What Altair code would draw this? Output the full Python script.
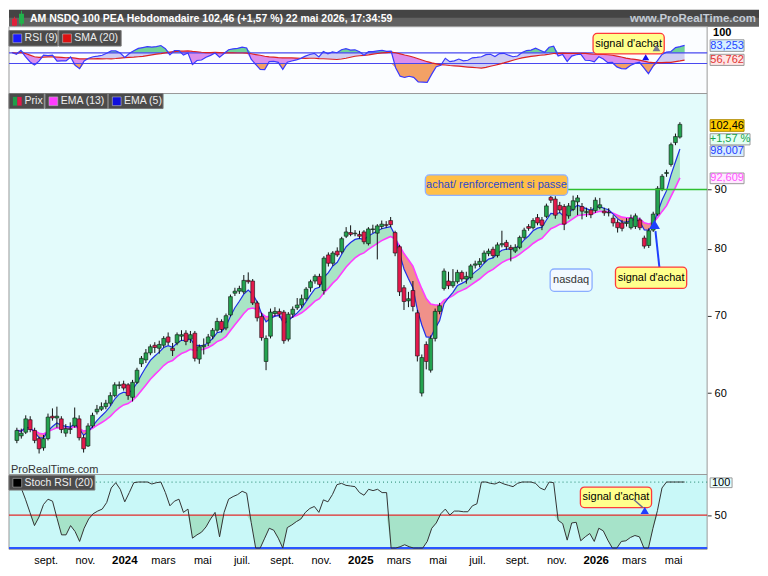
import altair as alt
import numpy as np
import pandas as pd

# ---------------- data ----------------
FIRST_WEEK = "2023-07-10"   # weekly candles, one per week

OPEN = [54.6, 55.1, 55.5, 56.9, 55.7, 54.8, 53.8, 54.8, 57.3, 57.1,
        57.0, 55.4, 55.8, 56.2, 57.0, 54.9, 54.0, 56.2, 57.8, 58.1,
        58.4, 58.8, 59.7, 60.9, 61.1, 61.0, 59.5, 61.3, 63.6, 64.1,
        65.0, 66.0, 65.6, 66.0, 67.1, 65.6, 66.3, 67.2, 67.6, 66.8,
        67.6, 64.2, 65.8, 66.3, 67.2, 68.0, 69.2, 68.3, 70.1, 73.2,
        73.5, 73.4, 75.1, 75.0, 71.8, 69.9, 63.9, 67.2, 70.3, 70.6,
        70.5, 66.8, 70.2, 71.1, 71.5, 72.4, 74.0, 75.0, 75.7, 73.6,
        79.0, 77.7, 79.6, 79.5, 82.0, 82.6, 82.4, 82.3, 82.7, 80.8,
        83.1, 82.5, 83.6, 83.9, 84.6, 82.6, 80.3, 74.0, 72.1, 73.6,
        70.4, 60.0, 66.1, 62.8, 66.9, 70.6, 73.9, 75.0, 74.3, 74.9,
        76.3, 75.3, 75.5, 77.4, 77.5, 78.0, 79.2, 79.9, 78.9, 80.6,
        81.0, 80.2, 79.6, 80.2, 81.8, 83.6, 83.4, 85.1, 84.7, 85.3,
        88.6, 88.3, 87.2, 87.0, 85.4, 86.5, 87.8, 87.0, 86.0, 86.4,
        86.3, 86.8, 86.2, 85.9, 85.0, 84.3, 84.2, 84.1, 83.4, 83.6,
        84.7, 81.7, 80.5, 83.0, 85.7, 90.1, 92.9, 94.6, 98.8, 99.9]

CLOSE = [55.7, 55.4, 57.0, 55.8, 54.6, 53.7, 54.8, 57.2, 57.1, 57.3,
         55.8, 55.9, 55.9, 57.1, 54.9, 53.7, 56.2, 57.4, 58.1, 58.4,
         58.8, 59.7, 61.0, 61.0, 60.6, 59.7, 61.3, 62.8, 64.3, 65.0,
         65.8, 65.7, 66.1, 66.9, 66.4, 65.3, 67.4, 67.4, 66.5, 67.4,
         64.3, 65.8, 66.0, 67.1, 68.0, 69.2, 68.1, 70.0, 72.7, 73.5,
         73.9, 75.1, 74.9, 71.8, 69.7, 67.0, 66.9, 70.5, 70.6, 70.2,
         66.6, 70.2, 70.9, 71.5, 72.4, 73.8, 74.9, 75.7, 74.5, 78.5,
         77.7, 79.3, 79.0, 81.6, 82.7, 82.3, 82.5, 82.0, 81.1, 83.2,
         83.2, 83.7, 84.0, 83.8, 83.9, 79.3, 73.4, 72.0, 72.4, 71.3,
         64.6, 64.4, 63.9, 66.9, 70.6, 71.4, 76.5, 74.3, 74.9, 76.3,
         75.3, 75.7, 77.3, 77.6, 78.0, 79.3, 79.6, 78.9, 80.6, 80.8,
         80.3, 79.9, 80.2, 81.8, 83.0, 83.3, 84.6, 84.2, 83.8, 87.1,
         88.1, 85.5, 86.4, 84.0, 87.1, 88.0, 88.5, 86.2, 86.1, 85.6,
         88.1, 87.3, 85.9, 86.0, 84.2, 83.4, 83.3, 84.3, 85.0, 85.4,
         83.4, 80.4, 82.9, 85.7, 90.2, 92.4, 93.1, 98.4, 100.0, 102.46]

HIGH = [56.0, 55.9, 57.4, 57.3, 56.0, 55.0, 55.2, 57.6, 58.2, 58.4,
        57.3, 56.4, 56.6, 58.3, 57.4, 55.2, 56.5, 57.7, 58.6, 58.9,
        59.2, 60.1, 61.3, 61.4, 61.5, 61.2, 61.6, 63.1, 64.6, 65.5,
        66.1, 66.4, 66.6, 67.2, 67.7, 66.3, 67.7, 68.0, 68.0, 67.9,
        67.9, 66.1, 66.9, 67.5, 68.3, 69.7, 69.5, 70.3, 73.0, 74.0,
        74.3, 75.9, 76.3, 75.3, 72.1, 70.4, 67.3, 71.0, 71.2, 71.0,
        70.8, 70.5, 71.3, 72.5, 73.0, 74.1, 75.2, 76.0, 76.1, 78.8,
        79.4, 79.6, 80.2, 81.9, 83.5, 83.8, 83.0, 82.9, 83.0, 83.5,
        83.9, 84.0, 84.6, 84.5, 85.2, 82.9, 80.6, 74.4, 73.4, 75.0,
        70.8, 64.8, 66.5, 67.3, 71.0, 71.8, 76.9, 76.4, 76.8, 76.7,
        76.6, 76.4, 77.6, 78.1, 78.5, 79.7, 80.0, 80.3, 81.0, 82.9,
        81.4, 80.6, 80.7, 82.1, 83.4, 84.0, 85.0, 85.7, 85.2, 87.5,
        89.8, 88.8, 87.8, 87.4, 87.6, 88.9, 89.0, 87.6, 86.8, 86.9,
        88.6, 88.5, 86.8, 86.7, 85.5, 84.8, 84.7, 85.0, 85.6, 85.8,
        85.1, 82.1, 83.3, 86.1, 90.6, 92.8, 93.6, 98.8, 100.6, 102.9]

LOW = [54.3, 54.8, 55.3, 55.5, 54.3, 53.2, 53.5, 54.6, 56.8, 56.0,
       55.4, 55.0, 55.3, 56.0, 54.6, 53.3, 53.9, 56.0, 57.5, 57.9,
       58.1, 58.5, 59.5, 60.5, 60.3, 59.2, 59.0, 61.1, 63.2, 63.7,
       64.7, 65.0, 64.9, 65.7, 66.0, 64.6, 66.0, 66.6, 66.0, 66.3,
       63.9, 63.6, 64.8, 65.9, 66.8, 67.7, 67.7, 68.0, 69.9, 72.8,
       73.1, 73.1, 74.6, 71.5, 69.2, 66.6, 62.8, 66.9, 69.9, 69.7,
       66.2, 66.5, 69.7, 70.8, 71.1, 72.1, 73.4, 74.6, 74.1, 73.0,
       77.2, 77.3, 78.7, 79.2, 81.7, 82.0, 82.0, 81.6, 80.7, 80.5,
       82.5, 78.3, 83.2, 83.4, 83.5, 78.8, 72.8, 70.8, 71.2, 70.6,
       63.9, 59.6, 62.9, 62.5, 66.5, 70.2, 73.6, 73.8, 74.0, 74.6,
       74.9, 74.6, 75.2, 76.9, 77.1, 77.7, 78.8, 78.5, 78.6, 80.2,
       79.8, 78.0, 79.3, 79.9, 81.5, 82.9, 83.1, 83.8, 83.0, 85.0,
       87.6, 84.9, 85.9, 83.0, 84.9, 86.2, 85.5, 84.8, 85.2, 85.0,
       85.9, 86.5, 85.4, 85.3, 83.6, 82.6, 82.8, 83.6, 83.1, 83.2,
       83.0, 80.0, 80.1, 82.7, 85.4, 89.7, 92.3, 94.2, 98.3, 99.6]

STOCH_RSI = [95, 95, 92, 74, 54, 34, 47, 66, 74, 71,
             45, 20, 20, 34, 25, 10, 30, 44, 52, 56,
             59, 69, 91, 99, 89, 70, 84, 99, 100, 100,
             100, 97, 99, 100, 84, 64, 71, 74, 54, 59,
             15, 20, 24, 32, 44, 54, 17, 54, 74, 78,
             81, 86, 83, 39, 0, 0, 15, 30, 27, 15,
             0, 31, 35, 40, 44, 54, 60, 63, 54, 73,
             70, 81, 96, 98, 95, 94, 93, 84, 80, 89,
             87, 89, 84, 84, 0, 0, 2, 5, 2, 0,
             0, 0, 10, 30, 38, 52, 59, 50, 56, 56,
             55, 55, 64, 67, 100, 100, 98, 97, 100, 97,
             95, 93, 98, 100, 100, 100, 98, 91, 88, 100,
             99, 42, 37, 12, 38, 39, 11, 17, 22, 10,
             30, 26, 12, 0, 0, 10, 11, 16, 19, 17,
             0, 0, 30, 57, 91, 100, 100, 100, 100, 100]

TICK_DATES = ["2023-09-01", "2023-11-01", "2024-01-01", "2024-03-01", "2024-05-01",
              "2024-07-01", "2024-09-01", "2024-11-01", "2025-01-01", "2025-03-01",
              "2025-05-01", "2025-07-01", "2025-09-01", "2025-11-01", "2026-01-01",
              "2026-03-01", "2026-05-01"]
TICK_LABELS = ["sept.", "nov.", "2024", "mars", "mai", "juil.", "sept.", "nov.", "2025",
               "mars", "mai", "juil.", "sept.", "nov.", "2026", "mars", "mai"]
PRICE_TICKS = [60, 70, 80, 90]
RSI_LEVELS = [70, 50]
BUY_LEVEL = 90
HEADER = "AM NSDQ 100 PEA Hebdomadaire 102,46 (+1,57 %) 22 mai 2026, 17:34:59"

# ---------------- layout ----------------
FONT = "Liberation Sans"
W = 700
TOTAL_W = 752
H_HEAD, H_RSI, H_PRICE, H_STOCH = 17, 67, 382, 75
SX = W / 716.0


def fx(rx):
    return rx * SX


def fr(ry):
    return (ry - 17) * H_RSI / 69.0


def fp(ry):
    return (ry - 87) * H_PRICE / 393.0


def fs(ry):
    return (ry - 481) * H_STOCH / 77.0


# ---------------- derived table ----------------
n = len(CLOSE)
df = pd.DataFrame({
    "date": pd.date_range(FIRST_WEEK, periods=n, freq="7D"),
    "open": OPEN, "close": CLOSE, "high": HIGH, "low": LOW, "stoch": STOCH_RSI,
})
df["dir"] = np.where(df["close"] >= df["open"], "up", "down")
cs = df["close"].astype(float)
df["ema13"] = cs.ewm(span=13, adjust=False).mean()
df["ema5"] = cs.ewm(span=5, adjust=False).mean()
df["ema_hi"] = np.maximum(df["ema5"], df["ema13"])
df["ema_lo"] = np.minimum(df["ema5"], df["ema13"])

# RSI(9), Wilder smoothing (state before the first week assumed in an up-trend)
c = cs.values
d = np.diff(c, prepend=c[0])
g = np.clip(d, 0, None)
l = np.clip(-d, 0, None)
ag, al = 0.6, 0.25
rsi = np.zeros(n)
for i in range(n):
    ag = (ag * 8 + g[i]) / 9.0
    al = (al * 8 + l[i]) / 9.0
    rsi[i] = 100.0 if al == 0 else 100 - 100 / (1 + ag / al)
df["rsi"] = rsi
df["sma"] = pd.Series(rsi).rolling(20, min_periods=1).mean()
df["rs_hi"] = np.maximum(df["rsi"], df["sma"])
df["rs_lo"] = np.minimum(df["rsi"], df["sma"])
df["c70"] = 70.0
df["c50"] = 50.0
df["rsi70"] = np.maximum(df["rsi"], 70)
df["rsi50"] = np.minimum(df["rsi"], 50)
df["s50"] = np.minimum(df["stoch"], 50)

ticks_df = pd.DataFrame({"date": pd.to_datetime(TICK_DATES), "label": TICK_LABELS})
ticks_df["year"] = ticks_df["label"].str.isdigit()

ONE = pd.DataFrame({"k": [0]})

# ---------------- helpers for furniture ----------------


def rect(x1, x2, y1, y2, fill, stroke="transparent", sw=1.0, r=0):
    return alt.Chart(ONE).mark_rect(fill=fill, stroke=stroke, strokeWidth=sw,
                                    cornerRadius=r, opacity=1).encode(
        x=alt.value(x1), x2=alt.value(x2), y=alt.value(y1), y2=alt.value(y2))


def text(x, y, s, color="black", size=11, weight="normal", align="left"):
    return alt.Chart(ONE).mark_text(text=s, font=FONT, fontSize=size, fontWeight=weight,
                                    color=color, align=align, baseline="middle").encode(
        x=alt.value(x), y=alt.value(y))


def seg(x1, y1, x2, y2, color, sw=1.0):
    return alt.Chart(ONE).mark_rule(color=color, strokeWidth=sw).encode(
        x=alt.value(x1), x2=alt.value(x2), y=alt.value(y1), y2=alt.value(y2))


def tri(x, y, size, color):
    return alt.Chart(ONE).mark_point(shape="triangle-up", filled=True, size=size,
                                     color=color, opacity=1).encode(
        x=alt.value(x), y=alt.value(y))


def value_box(y1, y2, s, fill, tcolor, width=34, stroke="#9a9a9a"):
    return [rect(W + 3, W + 3 + width, y1, y2, fill, stroke, 1),
            text(W + 3 + width / 2.0, (y1 + y2) / 2.0, s, tcolor, 11, "normal", "center")]


def note_box(x1, x2, y1, y2, s, fill, stroke, tcolor="black"):
    return [rect(x1, x2, y1, y2, fill, stroke, 1.3, 4),
            text((x1 + x2) / 2.0, (y1 + y2) / 2.0, s, tcolor, 11, "normal", "center")]


def level(v, scale, color, sw=1.0, dash=None):
    m = alt.Chart(pd.DataFrame({"v": [v]}))
    if dash:
        mk = m.mark_rule(color=color, strokeWidth=sw, strokeDash=dash)
    else:
        mk = m.mark_rule(color=color, strokeWidth=sw)
    return mk.encode(y=alt.Y("v:Q", scale=scale, axis=None, title=None))


LEG_FILL, LEG_STROKE, LEG_TEXT = "#4b4b4b", "#777777", "#eeeeee"
LEG_SIZE = 10.5
BORDER = "#9a9a9a"

XS = alt.Scale(domain=[alt.DateTime(year=2023, month=7, date=5, hours=12),
                       alt.DateTime(year=2026, month=6, date=22)])
XNONE = alt.X("date:T", scale=XS, axis=None, title=None)

# ---------------- header ----------------
header = alt.layer(
    rect(0, TOTAL_W, 0, 9, "#444444"),
    rect(0, TOTAL_W, 8, H_HEAD, "#626262"),
    seg(5.5, 7, 5.5, 17, "#e0203a", 1),
    rect(3, 8, 9, 16, "#e0203a"),
    seg(12.5, 1, 12.5, 16, "#22b24c", 1),
    rect(10, 15, 4, 14, "#22b24c"),
    text(21, 9.5, HEADER, "white", 10.5, "bold"),
    text(TOTAL_W - 3, 9.5, "www.ProRealTime.com", "#c4ccd6", 11.5, "bold", "right"),
).properties(width=TOTAL_W, height=H_HEAD)

# ---------------- RSI panel ----------------
YS_RSI = alt.Scale(domain=[-6.4, 119.1], nice=False, zero=False)


def yr(f):
    return alt.Y(f, scale=YS_RSI, axis=None, title=None)


br = alt.Chart(df).encode(x=XNONE)
rsi_layers = [
    rect(0, W, 0, H_RSI, "#fbfdff", BORDER, 1),
    br.mark_area(color="#cfcdf2", opacity=1).encode(y=yr("sma:Q"), y2="rs_hi:Q"),
    br.mark_area(color="#dc8eec", opacity=1).encode(y=yr("sma:Q"), y2="rs_lo:Q"),
    br.mark_area(color="#6fd398", opacity=1).encode(y=yr("c70:Q"), y2="rsi70:Q"),
    br.mark_area(color="#f3a166", opacity=1).encode(y=yr("c50:Q"), y2="rsi50:Q"),
    level(RSI_LEVELS[0], YS_RSI, "#4848f0", 1.2),
    level(RSI_LEVELS[1], YS_RSI, "#4848f0", 1.2),
    br.mark_line(color="#dd2222", strokeWidth=1.2).encode(y=yr("sma:Q")),
    br.mark_line(color="#3a3aff", strokeWidth=1.2).encode(y=yr("rsi:Q")),
    # legend
    rect(0, fx(50), fr(21), fr(37), LEG_FILL, LEG_STROKE),
    rect(fx(51), fx(115), fr(21), fr(37), LEG_FILL, LEG_STROKE),
    rect(fx(4), fx(13), fr(24.5), fr(33.5), "#1a1aff", "#bbbbbb", 0.6),
    text(fx(16), fr(29), "RSI (9)", LEG_TEXT, LEG_SIZE),
    rect(fx(55), fx(64), fr(24.5), fr(33.5), "#dd1111", "#bbbbbb", 0.6),
    text(fx(67), fr(29), "SMA (20)", LEG_TEXT, LEG_SIZE),
    # annotation
    *note_box(fx(599), fx(672), fr(24), fr(45), "signal d'achat", "#ffff8c", "#ff3a3a"),
    tri(fx(664), fr(39), 60, "#767690"),
    tri(fx(653), fr(48.5), 50, "#1010ee"),
    # right labels
    text(W + 6, fr(24), "100", "black", 11, "bold"),
    *value_box(fr(30.5), fr(42.5), "83,253", "#d6f0ff", "#2244ff"),
    *value_box(fr(45.5), fr(57), "56,762", "#ffe4e4", "#e03333"),
]
rsi_chart = alt.layer(*rsi_layers).properties(width=W, height=H_RSI)

# ---------------- price panel ----------------
YS_P = alt.Scale(type="log", domain=[51.02, 108.95], nice=False)
P_AXIS = alt.Axis(orient="right", values=PRICE_TICKS, format=".0f", labelFont=FONT,
                  labelFontSize=11, labelColor="black", tickColor="#333333", tickSize=4,
                  domain=False, grid=False, labelPadding=3)


def yp(f, axis=None):
    if axis is None:
        return alt.Y(f, scale=YS_P, axis=None, title=None)
    return alt.Y(f, scale=YS_P, axis=axis, title=None)


bp = alt.Chart(df).encode(x=XNONE)
price_layers = [
    rect(0, W, 0, H_PRICE, "#e3fbfb", BORDER, 1),
    bp.mark_area(color="#a9e5c5", opacity=1).encode(y=yp("ema13:Q", P_AXIS), y2="ema_hi:Q"),
    bp.mark_area(color="#f0918a", opacity=1).encode(y=yp("ema13:Q"), y2="ema_lo:Q"),
    bp.mark_line(color="#ff3cff", strokeWidth=1.6).encode(y=yp("ema13:Q")),
    bp.mark_line(color="#1f2fe6", strokeWidth=1.2).encode(y=yp("ema5:Q")),
    bp.mark_rule(color="#111111", strokeWidth=1).encode(y=yp("low:Q"), y2="high:Q"),
    bp.mark_bar(size=3.8, stroke="#111111", strokeWidth=0.6).encode(
        y=yp("open:Q"), y2="close:Q",
        color=alt.Color("dir:N", scale=alt.Scale(domain=["up", "down"],
                                                  range=["#23a34f", "#e3194c"]),
                        legend=None)),
    # green level line at 90
    alt.Chart(pd.DataFrame({"v": [BUY_LEVEL]})).mark_rule(
        color="#2fbf2f", strokeWidth=1.5).encode(
        x=alt.value(fx(427)), x2=alt.value(W), y=yp("v:Q")),
    *note_box(fx(427), fx(573), fp(171), fp(192), "achat/ renforcement si passe",
              "#ffbf47", "#8fb0ff", "#2b47d0"),
    *note_box(fx(555), fx(598), fp(268), fp(291), "nasdaq", "#f2f9ff", "#8aaeff", "#333333"),
    seg(fx(667), fp(266), fx(663), fp(229), "#1f3fff", 2),
    tri(fx(662), fp(222), 120, "#1f3fff"),
    *note_box(fx(622), fx(695), fp(266), fp(288), "signal d'achat", "#ffff8c", "#ff3a3a"),
    text(2, fp(475), "ProRealTime.com", "#333333", 11),
    # legend
    rect(0, fx(36), fp(87), fp(102.5), LEG_FILL, LEG_STROKE),
    rect(fx(37), fx(101), fp(87), fp(102.5), LEG_FILL, LEG_STROKE),
    rect(fx(102), fx(158), fp(87), fp(102.5), LEG_FILL, LEG_STROKE),
    rect(fx(4), fx(8.5), fp(90.5), fp(99.5), "#1f9e4a"),
    rect(fx(8.5), fx(13), fp(90.5), fp(99.5), "#e3194c"),
    text(fx(16), fp(95), "Prix", LEG_TEXT, LEG_SIZE),
    rect(fx(41), fx(50), fp(90.5), fp(99.5), "#ff3cff", "#bbbbbb", 0.6),
    text(fx(53), fp(95), "EMA (13)", LEG_TEXT, LEG_SIZE),
    rect(fx(106), fx(115), fp(90.5), fp(99.5), "#1010dd", "#bbbbbb", 0.6),
    text(fx(118), fp(95), "EMA (5)", LEG_TEXT, LEG_SIZE),
    # right value labels
    *value_box(fp(114), fp(126), "102,46", "#ffcc00", "black", 34, "#b08a00"),
    *value_box(fp(128.5), fp(140), "+1,57 %", "#e4fff4", "#16a34a", 40),
    *value_box(fp(141), fp(152), "98,007", "#d8ecff", "#1f3dff"),
    *value_box(fp(169), fp(180), "92,609", "#ffe8ff", "#ff55ff"),
]
price_chart = alt.layer(*price_layers).resolve_axis(y="independent").properties(
    width=W, height=H_PRICE)

# ---------------- Stoch RSI panel ----------------
YS_S = alt.Scale(domain=[-1.9, 111.4], nice=False, zero=False)
S_AXIS = alt.Axis(orient="right", values=[50], labelFont=FONT, labelFontSize=11,
                  labelColor="black", tickColor="#333333", tickSize=4, domain=False,
                  grid=False, labelPadding=3)


def ys(f, axis=None):
    if axis is None:
        return alt.Y(f, scale=YS_S, axis=None, title=None)
    return alt.Y(f, scale=YS_S, axis=axis, title=None)


bs = alt.Chart(df).encode(x=XNONE)
bt = alt.Chart(ticks_df).encode(x=XNONE)
stoch_layers = [
    rect(0, W, 0, H_STOCH, "#c9f8f8", BORDER, 1),
    bs.mark_area(color="#a6e3c9", opacity=1).encode(y=ys("s50:Q", S_AXIS), y2="c50:Q"),
    level(100, YS_S, "#3f9a86", 1.2, [1, 3]),
    level(50, YS_S, "#e02b2b", 1.3),
    level(0, YS_S, "#2a55ff", 2),
    bs.mark_line(color="#333333", strokeWidth=1).encode(y=ys("stoch:Q")),
    rect(0, fx(88), fs(482), fs(497), LEG_FILL, LEG_STROKE),
    rect(fx(4), fx(13), fs(485), fs(494), "black", "#bbbbbb", 0.6),
    text(fx(16), fs(489.5), "Stoch RSI (20)", LEG_TEXT, LEG_SIZE),
    *note_box(fx(586), fx(659), fs(494), fs(515), "signal d'achat", "#ffff8c", "#ff3a3a"),
    seg(fx(641), fs(507), fx(650), fs(515), "#6a6a8a", 1.5),
    tri(fx(652), fs(518), 70, "#1f3fff"),
    rect(W + 3, W + 25, fs(484.5), fs(494.5), "#e8ffff", BORDER, 1),
    text(W + 14, fs(489.5), "100", "black", 11, "normal", "center"),
    # time axis labels (drawn from the tick table through the x scale)
    bt.transform_filter("!datum.year").mark_text(
        font=FONT, fontSize=11, color="black", baseline="middle", align="center").encode(
        y=alt.value(H_STOCH + 12), text="label:N"),
    bt.transform_filter("datum.year").mark_text(
        font=FONT, fontSize=11.5, fontWeight="bold", color="black", baseline="middle",
        align="center").encode(y=alt.value(H_STOCH + 12), text="label:N"),
]
stoch_chart = alt.layer(*stoch_layers).resolve_axis(y="independent").properties(
    width=W, height=H_STOCH)

chart = alt.vconcat(header, rsi_chart, price_chart, stoch_chart,
                    spacing=0, bounds="flush").resolve_scale(
    x="independent", y="independent", color="independent").properties(
    padding={"left": 0, "top": 0, "right": 0, "bottom": 0}).configure(
    font=FONT).configure_view(strokeWidth=0)

chart.save("out.html", embed_options={"renderer": "svg", "actions": False})
